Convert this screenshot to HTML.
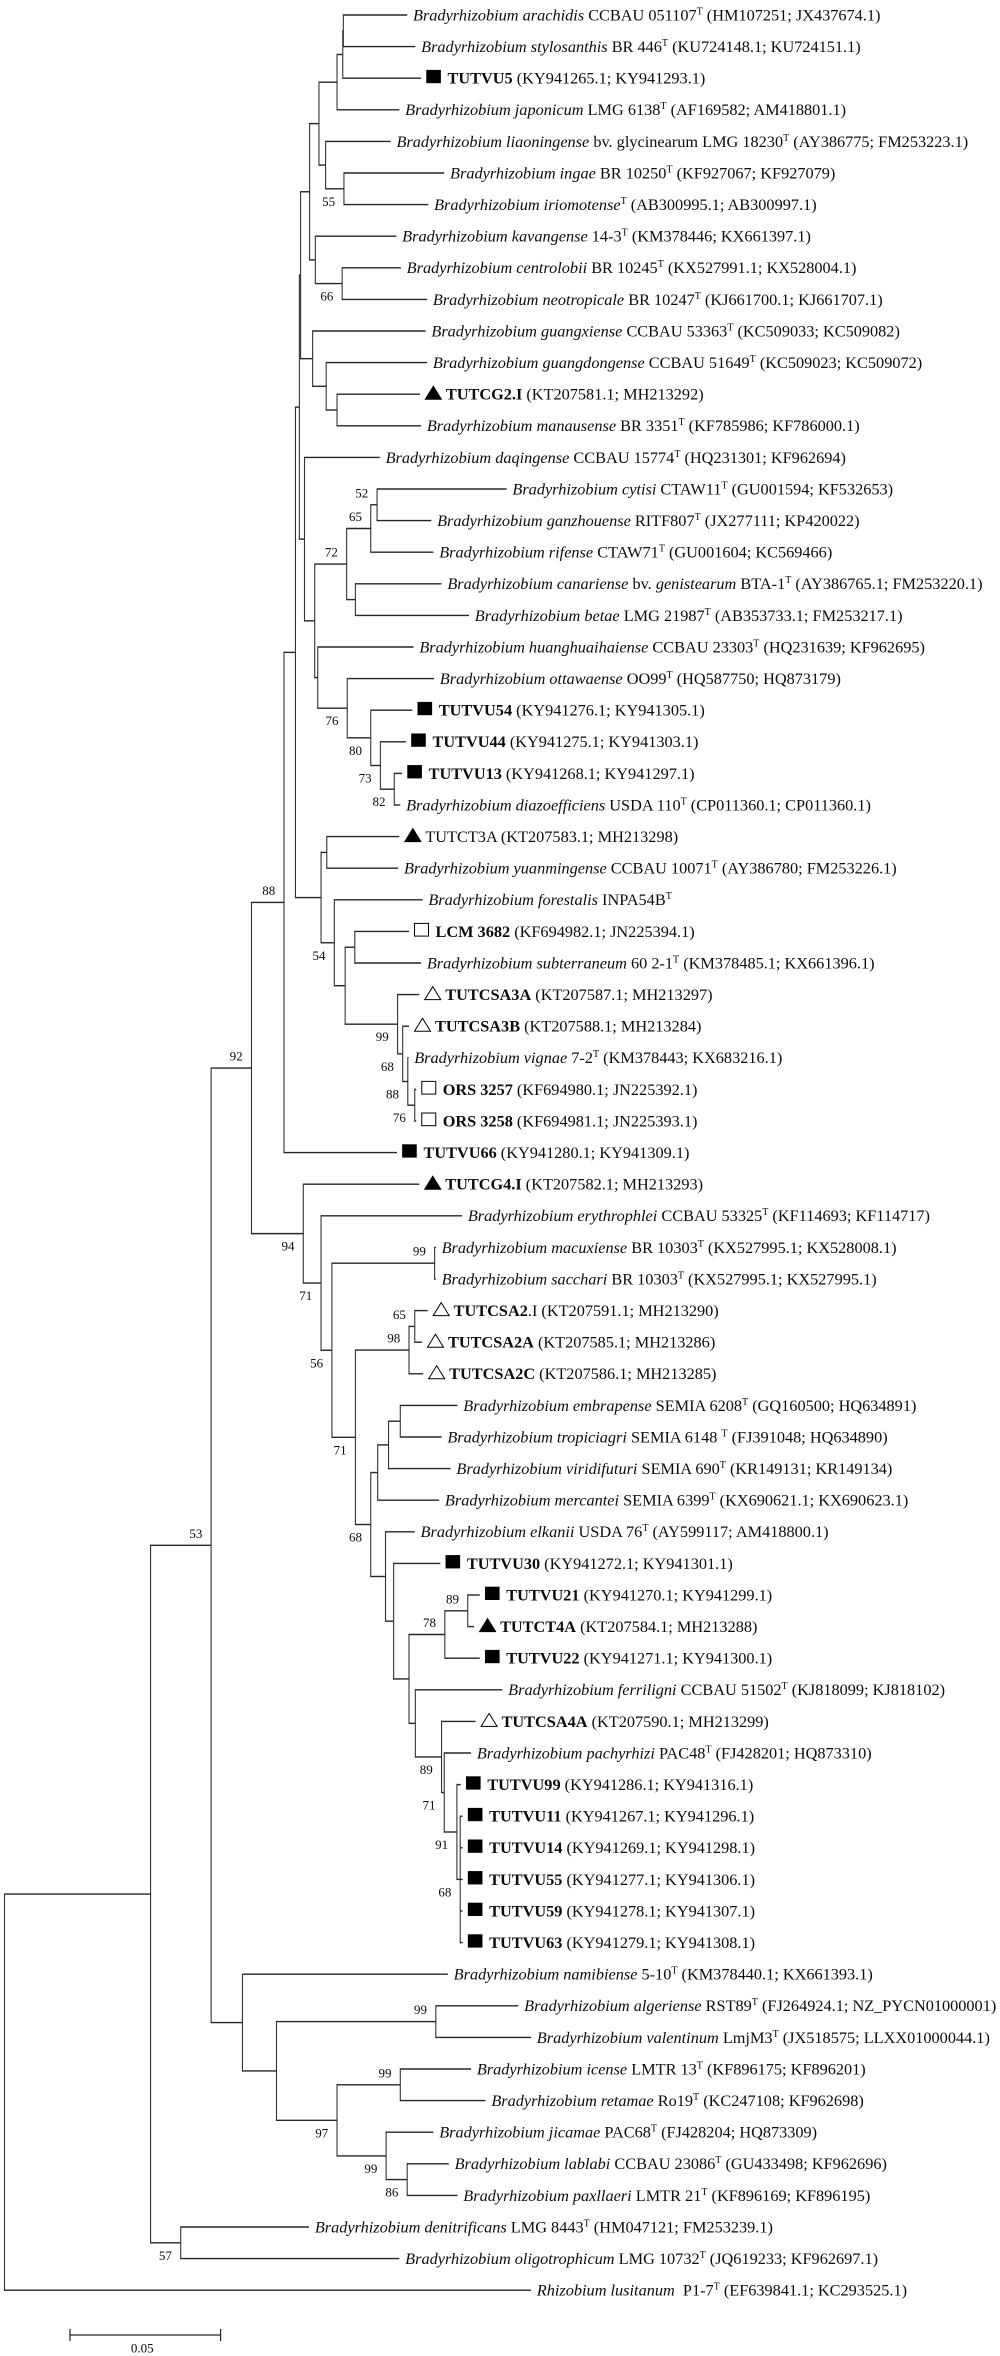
<!DOCTYPE html>
<html lang="en">
<head>
<meta charset="utf-8">
<title>Phylogenetic tree of Bradyrhizobium strains</title>
<style>
  html, body { margin: 0; padding: 0; background: #fff; }
  #tree { display: block; width: 1000px; height: 2356px; }
  text { font-family: "Liberation Serif", serif; fill: #0c0c0c; white-space: pre; }
</style>
</head>
<body>
<svg id="tree" xmlns="http://www.w3.org/2000/svg" width="1000" height="2356" viewBox="0 0 1000 2356">
  <rect x="0" y="0" width="1000" height="2356" fill="#ffffff"></rect>
  <g id="branches"></g>
  <g id="supports"></g>
  <g id="leaves"></g>
  <g id="scale"></g>
</svg>
<script>
// Internal nodes: id, parent, root-to-node divergence (substitutions/site), bootstrap support
const nodeIds = ["root","A","B","C","D","E","F","G","H","I","Y","K","N","P","R","S","Q","T","O","U","M","Z","AA","W","X","AB","AD","AF","AE","AC","AG","AH","AI","AJ","J","AK","AL","AM","AN","AO","AP","AQ","AR","AS","AT","AU","AV","AW","AY","AX","BA","BC","BD","BB","BE","BF","BG","BI","BH","BJ","BK","BM","BN","BO","BP","BQ","BR","BS","BT"];
const nodeParents = [null,"root","A","A","B","B","D","D","F","H","I","Y","K","N","P","R","N","Q","K","O","Y","M","Z","I","W","X","AB","AD","AB","X","AC","AG","AH","AI","H","J","J","AL","AM","AM","AO","AP","AQ","G","AS","AT","AT","AV","AW","AV","AX","BA","BC","AX","BB","BE","BF","BG","BF","BH","BJ","BK","BM","E","BO","BO","BQ","BQ","BS"];
const nodeDivergence = [0,0.0485,0.0686,0.0585,0.0820,0.0790,0.0928,0.0992,0.0966,0.0979,0.0983,0.1013,0.1044,0.1104,0.1123,0.1125,0.1066,0.1127,0.1032,0.1121,0.1023,0.1068,0.1104,0.0996,0.1030,0.1136,0.1216,0.1237,0.1165,0.1040,0.1138,0.1216,0.1248,0.1294,0.1051,0.1070,0.1095,0.1131,0.1163,0.1305,0.1322,0.1339,0.1362,0.1051,0.1087,0.1428,0.1165,0.1343,0.1362,0.1216,0.1239,0.1275,0.1314,0.1265,0.1292,0.1343,0.1462,0.1538,0.1364,0.1451,0.1460,0.1502,0.1513,0.0903,0.1432,0.1104,0.1314,0.1267,0.1337];
const nodeSupport = [null,null,53,57,92,null,88,94,null,null,null,null,null,null,null,null,null,55,null,66,null,null,null,null,null,72,65,52,null,null,76,80,73,82,null,null,54,null,null,99,68,88,76,71,56,99,71,98,65,68,null,null,null,null,null,null,78,89,null,89,71,91,68,null,99,97,99,99,86];

// Leaves, top to bottom. ~italic~  *bold*  ^ = superscript type-strain mark
const leafLabels = [
"~Bradyrhizobium arachidis~ CCBAU 051107^ (HM107251; JX437674.1)",
"~Bradyrhizobium stylosanthis~ BR 446^ (KU724148.1; KU724151.1)",
"*TUTVU5* (KY941265.1; KY941293.1)",
"~Bradyrhizobium japonicum~ LMG 6138^ (AF169582; AM418801.1)",
"~Bradyrhizobium liaoningense~ bv. glycinearum LMG 18230^ (AY386775; FM253223.1)",
"~Bradyrhizobium ingae~ BR 10250^ (KF927067; KF927079)",
"~Bradyrhizobium iriomotense~^ (AB300995.1; AB300997.1)",
"~Bradyrhizobium kavangense~ 14-3^ (KM378446; KX661397.1)",
"~Bradyrhizobium centrolobii~ BR 10245^ (KX527991.1; KX528004.1)",
"~Bradyrhizobium neotropicale~ BR 10247^ (KJ661700.1; KJ661707.1)",
"~Bradyrhizobium guangxiense~ CCBAU 53363^ (KC509033; KC509082)",
"~Bradyrhizobium guangdongense~ CCBAU 51649^ (KC509023; KC509072)",
"*TUTCG2.I* (KT207581.1; MH213292)",
"~Bradyrhizobium manausense~ BR 3351^ (KF785986; KF786000.1)",
"~Bradyrhizobium daqingense~ CCBAU 15774^ (HQ231301; KF962694)",
"~Bradyrhizobium cytisi~ CTAW11^ (GU001594; KF532653)",
"~Bradyrhizobium ganzhouense~ RITF807^ (JX277111; KP420022)",
"~Bradyrhizobium rifense~ CTAW71^ (GU001604; KC569466)",
"~Bradyrhizobium canariense~ bv. ~genistearum~ BTA-1^ (AY386765.1; FM253220.1)",
"~Bradyrhizobium betae~ LMG 21987^ (AB353733.1; FM253217.1)",
"~Bradyrhizobium huanghuaihaiense~ CCBAU 23303^ (HQ231639; KF962695)",
"~Bradyrhizobium ottawaense~ OO99^ (HQ587750; HQ873179)",
"*TUTVU54* (KY941276.1; KY941305.1)",
"*TUTVU44* (KY941275.1; KY941303.1)",
"*TUTVU13* (KY941268.1; KY941297.1)",
"~Bradyrhizobium diazoefficiens~ USDA 110^ (CP011360.1; CP011360.1)",
"TUTCT3A (KT207583.1; MH213298)",
"~Bradyrhizobium yuanmingense~ CCBAU 10071^ (AY386780; FM253226.1)",
"~Bradyrhizobium forestalis~ INPA54B^",
"*LCM 3682* (KF694982.1; JN225394.1)",
"~Bradyrhizobium subterraneum~ 60 2-1^ (KM378485.1; KX661396.1)",
"*TUTCSA3A* (KT207587.1; MH213297)",
"*TUTCSA3B* (KT207588.1; MH213284)",
"~Bradyrhizobium vignae~ 7-2^ (KM378443; KX683216.1)",
"*ORS 3257* (KF694980.1; JN225392.1)",
"*ORS 3258* (KF694981.1; JN225393.1)",
"*TUTVU66* (KY941280.1; KY941309.1)",
"*TUTCG4.I* (KT207582.1; MH213293)",
"~Bradyrhizobium erythrophlei~ CCBAU 53325^ (KF114693; KF114717)",
"~Bradyrhizobium macuxiense~ BR 10303^ (KX527995.1; KX528008.1)",
"~Bradyrhizobium sacchari~ BR 10303^ (KX527995.1; KX527995.1)",
"*TUTCSA2*.I (KT207591.1; MH213290)",
"*TUTCSA2A* (KT207585.1; MH213286)",
"*TUTCSA2C* (KT207586.1; MH213285)",
"~Bradyrhizobium embrapense~ SEMIA 6208^ (GQ160500; HQ634891)",
"~Bradyrhizobium tropiciagri~ SEMIA 6148 ^ (FJ391048; HQ634890)",
"~Bradyrhizobium viridifuturi~ SEMIA 690^ (KR149131; KR149134)",
"~Bradyrhizobium mercantei~ SEMIA 6399^ (KX690621.1; KX690623.1)",
"~Bradyrhizobium elkanii~ USDA 76^ (AY599117; AM418800.1)",
"*TUTVU30* (KY941272.1; KY941301.1)",
"*TUTVU21* (KY941270.1; KY941299.1)",
"*TUTCT4A* (KT207584.1; MH213288)",
"*TUTVU22* (KY941271.1; KY941300.1)",
"~Bradyrhizobium ferriligni~ CCBAU 51502^ (KJ818099; KJ818102)",
"*TUTCSA4A* (KT207590.1; MH213299)",
"~Bradyrhizobium pachyrhizi~ PAC48^ (FJ428201; HQ873310)",
"*TUTVU99* (KY941286.1; KY941316.1)",
"*TUTVU11* (KY941267.1; KY941296.1)",
"*TUTVU14* (KY941269.1; KY941298.1)",
"*TUTVU55* (KY941277.1; KY941306.1)",
"*TUTVU59* (KY941278.1; KY941307.1)",
"*TUTVU63* (KY941279.1; KY941308.1)",
"~Bradyrhizobium namibiense~ 5-10^ (KM378440.1; KX661393.1)",
"~Bradyrhizobium algeriense~ RST89^ (FJ264924.1; NZ_PYCN01000001)",
"~Bradyrhizobium valentinum~ LmjM3^ (JX518575; LLXX01000044.1)",
"~Bradyrhizobium icense~ LMTR 13^ (KF896175; KF896201)",
"~Bradyrhizobium retamae~ Ro19^ (KC247108; KF962698)",
"~Bradyrhizobium jicamae~ PAC68^ (FJ428204; HQ873309)",
"~Bradyrhizobium lablabi~ CCBAU 23086^ (GU433498; KF962696)",
"~Bradyrhizobium paxllaeri~ LMTR 21^ (KF896169; KF896195)",
"~Bradyrhizobium denitrificans~ LMG 8443^ (HM047121; FM253239.1)",
"~Bradyrhizobium oligotrophicum~ LMG 10732^ (JQ619233; KF962697.1)",
"~Rhizobium lusitanum~  P1-7^ (EF639841.1; KC293525.1)"
];
const leafParents = ["S","S","R","P","Q","T","T","O","U","U","M","Z","AA","AA","W","AF","AF","AD","AE","AE","AC","AG","AH","AI","AJ","AJ","AK","AK","AL","AN","AN","AO","AP","AQ","AR","AR","F","G","AS","AU","AU","AY","AY","AW","BD","BD","BC","BA","BB","BE","BI","BI","BG","BH","BJ","BK","BM","BN","BN","BN","BN","BN","E","BP","BP","BR","BR","BS","BT","BT","C","C","root"];
const leafDivergence = [0.1337,0.1364,0.1383,0.1311,0.1282,0.1460,0.1407,0.1301,0.1316,0.1403,0.1398,0.1403,0.1379,0.1383,0.1246,0.1667,0.1417,0.1424,0.1451,0.1542,0.1358,0.1426,0.1354,0.1333,0.1320,0.1314,0.1311,0.1307,0.1388,0.1343,0.1383,0.1377,0.1343,0.1341,0.1367,0.1367,0.1303,0.1377,0.1519,0.1432,0.1432,0.1405,0.1386,0.1390,0.1504,0.1451,0.1481,0.1443,0.1362,0.1447,0.1578,0.1559,0.1578,0.1653,0.1564,0.1549,0.1515,0.1521,0.1521,0.1521,0.1521,0.1521,0.1472,0.1706,0.1748,0.1549,0.1597,0.1424,0.1475,0.1504,0.1011,0.1311,0.1748];
// s = filled square, t = filled triangle, S = open square, T = open triangle, "" = none
const leafMarkers = ["","","s","","","","","","","","","","t","","","","","","","","","","s","s","s","","t","","","S","","T","T","","S","S","s","t","","","","T","T","T","","","","","","s","s","t","s","","T","","s","s","s","s","s","s","","","","","","","","","","",""];
const scaleBarValue = 0.05;
const scaleBarLabel = "0.05";

// Axis functions
const NS = "http://www.w3.org/2000/svg";
const xAxis = function (v) { return 4.5 + v * 3012; };
const rowAxis = function (row) { return 15 + 31.6 * row; };
const FONT = 16.3;

function mk(tag, attrs, parent) {
  const el = document.createElementNS(NS, tag);
  for (const k in attrs) el.setAttribute(k, attrs[k]);
  parent.appendChild(el);
  return el;
}

// Layout: y of an internal node is the midpoint of its first and last child
const nodeY = {};
function yOf(id) {
  if (nodeY[id] !== undefined) return nodeY[id];
  const ys = childYs(id);
  nodeY[id] = (Math.min.apply(null, ys) + Math.max.apply(null, ys)) / 2;
  return nodeY[id];
}
function childYs(id) {
  const ys = [];
  nodeParents.forEach(function (p, i) { if (p === id) ys.push(yOf(nodeIds[i])); });
  leafParents.forEach(function (p, i) { if (p === id) ys.push(rowAxis(i)); });
  return ys;
}
const nodeX = function (id) { return xAxis(nodeDivergence[nodeIds.indexOf(id)]); };

const gBranches = document.getElementById("branches");
const gSupports = document.getElementById("supports");
const gLeaves = document.getElementById("leaves");
const gScale = document.getElementById("scale");

function hLine(x1, x2, y) {
  const el = mk("line", { x1: x1, x2: x2, y1: y, y2: y, stroke: "#262626", "stroke-width": 1.4 }, gBranches);
  
  
}
function vLine(x, y1, y2) {
  const el = mk("line", { x1: x, x2: x, y1: y1 - 0.7, y2: y2 + 0.7, stroke: "#333333", "stroke-width": 1.1 }, gBranches);
  
  
}

// Internal branches and support values
nodeIds.forEach(function (id, i) {
  const ys = childYs(id);
  const x = xAxis(nodeDivergence[i]);
  vLine(x, Math.min.apply(null, ys), Math.max.apply(null, ys));
  const p = nodeParents[i];
  if (p !== null) {
    hLine(nodeX(p), x, yOf(id));
    if (nodeSupport[i] !== null) {
      const above = yOf(id) < yOf(p);
      const t = mk("text", {
        x: x - 15.3,
        y: yOf(id) + (above ? -7.5 : 17),
        "text-anchor": "middle",
        "font-size": 13
      }, gSupports);
      
      
      t.textContent = String(nodeSupport[i]);
    }
  }
});

// Leaf markers and labels
function addLabel(parent, x, y, label) {
  const t = mk("text", { x: x, y: y, "font-size": FONT }, parent);
  
  
  const parts = label.split(/(~[^~]*~|\*[^*]*\*|\^)/).filter(function (s) { return s.length; });
  let pendingDy = 0;
  parts.forEach(function (part) {
    const s = mk("tspan", {}, t);
    if (pendingDy) { s.setAttribute("dy", pendingDy); pendingDy = 0; }
    if (part[0] === "~") {
      s.setAttribute("font-style", "italic");
      s.textContent = part.slice(1, -1);
    } else if (part[0] === "*") {
      s.setAttribute("font-weight", "bold");
      s.textContent = part.slice(1, -1);
    } else if (part === "^") {
      s.setAttribute("font-size", 10);
      s.setAttribute("dy", -6);
      s.textContent = "T";
      pendingDy = 6;
    } else {
      s.textContent = part;
    }
  });
}
function addMarker(parent, kind, x, y) {
  if (kind === "s" || kind === "S") {
    const r = mk("rect", {
      x: x + 0.5, y: y - 8, width: 14, height: 12.7,
      fill: kind === "s" ? "#000000" : "#ffffff",
      stroke: "#000000", "stroke-width": kind === "s" ? 0.6 : 1
    }, parent);
    
    
  } else if (kind === "t" || kind === "T") {
    const pts = [[x + 8.5, y - 8], [x + 16.5, y + 5], [x + 0.5, y + 5]].map(function (p) { return p.join(","); }).join(" ");
    const r = mk("polygon", {
      points: pts,
      fill: kind === "t" ? "#000000" : "#ffffff",
      stroke: "#000000", "stroke-width": 1
    }, parent);
    
    
  }
}
leafLabels.forEach(function (label, i) {
  const y = rowAxis(i);
  const tip = xAxis(leafDivergence[i]);
  hLine(nodeX(leafParents[i]), tip, y);
  const g = mk("g", {}, gLeaves);
  
  
  let tx = tip + 5.8;
  const kind = leafMarkers[i];
  if (kind) {
    addMarker(g, kind, tip + 5, y);
    tx = tip + ((kind === "t" || kind === "T") ? 26 : 26.5);
  }
  addLabel(g, tx, y + 5.4, label);
});

// Scale bar
const barStart = 70;
const barEnd = barStart + (xAxis(scaleBarValue) - xAxis(0));
const barY = 2335;
const bar = mk("path", {
  d: "M" + barStart + " " + (barY - 6) + "V" + (barY + 6) + "M" + barStart + " " + barY + "H" + barEnd + "M" + barEnd + " " + (barY - 6) + "V" + (barY + 6),
  fill: "none", stroke: "#222222", "stroke-width": 1.2
}, gScale);


const barText = mk("text", { x: (barStart + barEnd) / 2 - 3, y: 2352.5, "text-anchor": "middle", "font-size": 13 }, gScale);


barText.textContent = scaleBarLabel;
</script>
</body>
</html>
